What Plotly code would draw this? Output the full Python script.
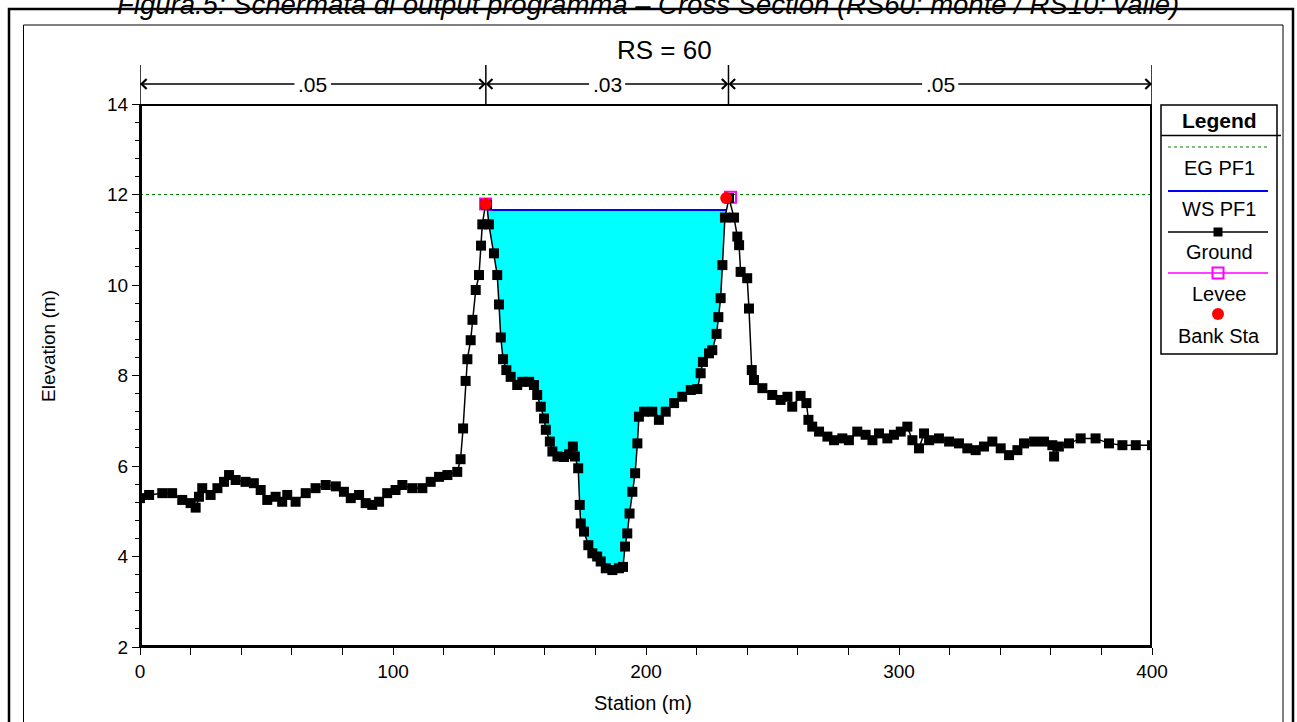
import plotly.graph_objects as go
import numpy as np

W, H = 1297, 722

# ---------------- data ----------------
station = [0, 3.6, 8.8, 12.7, 16.7, 20, 22, 23.3, 24.6, 27.9,
           30.6, 33.2, 35.2, 37.8, 41.7, 45, 47.7, 50.3, 53.6, 56.2,
           58.2, 61.5, 65.5, 69.4, 73.4, 77.4, 80.6, 83.3, 86.6, 89.2,
           91.8, 94.5, 97.7, 101, 103.7, 107.6, 111.6, 114.9, 118.2, 121.5,
           125.4, 126.7, 127.7, 128.7, 129.4, 130.7, 131.4, 132.7, 134, 134.8,
           135.3, 136.6, 137.1, 137.9, 139.9, 141.2, 141.9, 142.6, 143.5, 144.8,
           146.5, 149.1, 151.1, 153.8, 155.7, 157, 158.4, 159.7, 160.4, 162,
           163, 165, 167.6, 169.6, 171.1, 171.9, 173.2, 173.8, 174.2, 175.5,
           177.2, 178.8, 180.7, 182.1, 184.1, 186.7, 189.3, 190.9, 191.7, 192.6,
           193.5, 194.6, 195.7, 196.6, 197.2, 199.2, 202.5, 205.1, 207.8, 211.1,
           214.3, 217.7, 220.3, 221.6, 222.5, 224.9, 226.2, 227.9, 228.6, 229.5,
           230.2, 231.2, 232.8, 234.8, 236.1, 236.8, 237.4, 240, 240.7, 241.8,
           242.7, 246, 249.9, 253.2, 255.9, 257.8, 261.1, 263.4, 264.2, 265.7,
           268.4, 271.7, 274.3, 277.6, 280.2, 283.5, 286.8, 289.5, 292.1, 295.4,
           298, 300.7, 303.3, 305.3, 307.9, 309.9, 311.9, 315.8, 319.8, 323.7,
           327, 330.3, 333.6, 336.9, 340.2, 343.5, 346.8, 349.4, 353.4, 357.3,
           360.6, 361.3, 363.2, 367.2, 371.8, 377.7, 383, 388.3, 393.6, 400]
elevation = [5.29, 5.36, 5.40, 5.40, 5.25, 5.18, 5.08, 5.32, 5.51, 5.36,
             5.51, 5.65, 5.80, 5.69, 5.65, 5.62, 5.47, 5.25, 5.32, 5.21,
             5.36, 5.21, 5.40, 5.51, 5.58, 5.55, 5.43, 5.29, 5.36, 5.18,
             5.14, 5.21, 5.40, 5.47, 5.58, 5.51, 5.51, 5.65, 5.76, 5.80,
             5.87, 6.15, 6.83, 7.88, 8.36, 8.78, 9.23, 9.89, 10.22, 10.87,
             11.34, 11.79, 11.77, 11.34, 10.70, 10.22, 9.57, 8.84, 8.36, 8.12,
             7.97, 7.79, 7.86, 7.86, 7.79, 7.57, 7.31, 7.05, 6.80, 6.54,
             6.32, 6.21, 6.20, 6.26, 6.43, 6.21, 5.95, 5.14, 4.73, 4.55,
             4.25, 4.07, 4.00, 3.89, 3.74, 3.70, 3.74, 3.77, 4.22, 4.51,
             4.95, 5.43, 5.84, 6.50, 7.09, 7.20, 7.20, 7.02, 7.20, 7.39,
             7.53, 7.68, 7.70, 8.05, 8.30, 8.49, 8.56, 8.92, 9.29, 9.71,
             10.44, 11.49, 11.92, 11.49, 11.07, 10.88, 10.29, 10.15, 9.48, 8.12,
             7.90, 7.72, 7.57, 7.46, 7.53, 7.31, 7.55, 7.39, 7.02, 6.87,
             6.76, 6.65, 6.57, 6.61, 6.57, 6.76, 6.69, 6.57, 6.72, 6.61,
             6.69, 6.76, 6.87, 6.57, 6.39, 6.72, 6.57, 6.61, 6.54, 6.50,
             6.39, 6.35, 6.43, 6.54, 6.39, 6.24, 6.35, 6.50, 6.54, 6.54,
             6.46, 6.21, 6.43, 6.50, 6.61, 6.61, 6.50, 6.46, 6.46, 6.46]

ws_elev = 11.66          # WS PF1
eg_elev = 12.0           # EG PF1
bank_sta_x = [136.7, 231.7]
bank_sta_y = [11.79, 11.92]
levee_x = [136.6, 233.4]
levee_y = [11.79, 11.94]
manning_n = [".05", ".03", ".05"]
manning_breaks = [0, 136.7, 232.6, 400]
x_range = [0, 400]
y_range = [2, 14]

legend_labels = ["EG PF1", "WS PF1", "Ground", "Levee", "Bank Sta"]

FONT = "Liberation Sans, Arial, sans-serif"

# ---------------- water polygon (ground clipped at WS) ----------------
sx = np.array(station, float)
sy = np.array(elevation, float)
ch = np.where((sx > bank_sta_x[0] - 1) & (sx < levee_x[1] + 1))[0]
below = [i for i in ch if sy[i] <= ws_elev]
i0, i1 = below[0], below[-1]
def cross(a, b):
    return sx[a] + (ws_elev - sy[a]) / (sy[b] - sy[a]) * (sx[b] - sx[a])
xl = cross(i0 - 1, i0)
xr = cross(i1, i1 + 1)
poly_x = [xl] + list(sx[i0:i1 + 1]) + [xr, xl]
poly_y = [ws_elev] + list(sy[i0:i1 + 1]) + [ws_elev, ws_elev]

fig = go.Figure()

fig.add_trace(go.Scatter(x=poly_x, y=poly_y, mode="lines", fill="toself",
                         fillcolor="#00FFFF", line=dict(width=0), hoverinfo="skip"))
fig.add_trace(go.Scatter(x=[xl, xr], y=[ws_elev, ws_elev], mode="lines",
                         line=dict(color="#0000FF", width=2), name="WS PF1"))
fig.add_trace(go.Scatter(x=x_range, y=[eg_elev, eg_elev], mode="lines",
                         line=dict(color="#008000", width=1, dash="dot"), name="EG PF1"))
fig.add_trace(go.Scatter(x=levee_x, y=levee_y, mode="markers",
                         marker=dict(symbol="square-open", size=11, color="#FF00FF",
                                     line=dict(width=2, color="#FF00FF")), name="Levee"))
fig.add_trace(go.Scatter(x=station, y=elevation, mode="lines+markers",
                         line=dict(color="black", width=1.5),
                         marker=dict(symbol="square", size=10, color="black"), name="Ground"))
fig.add_trace(go.Scatter(x=bank_sta_x, y=bank_sta_y, mode="markers",
                         marker=dict(symbol="circle", size=12, color="#FF0000"), name="Bank Sta"))

# ---------------- legend samples (pixel overlay axes x2/y2) ----------------
LX0, LX1, LXC = 1168, 1268, 1218
leg_y = [147, 191, 232, 273, 314]
fig.add_trace(go.Scatter(x=[LX0, LX1], y=[leg_y[0]] * 2, xaxis="x2", yaxis="y2", mode="lines",
                         line=dict(color="#008000", width=1, dash="dot")))
fig.add_trace(go.Scatter(x=[LX0, LX1], y=[leg_y[1]] * 2, xaxis="x2", yaxis="y2", mode="lines",
                         line=dict(color="#0000FF", width=2)))
fig.add_trace(go.Scatter(x=[LX0, LX1], y=[leg_y[2]] * 2, xaxis="x2", yaxis="y2", mode="lines",
                         line=dict(color="black", width=1.5)))
fig.add_trace(go.Scatter(x=[LXC], y=[leg_y[2]], xaxis="x2", yaxis="y2", mode="markers",
                         marker=dict(symbol="square", size=9, color="black")))
fig.add_trace(go.Scatter(x=[LX0, LX1], y=[leg_y[3]] * 2, xaxis="x2", yaxis="y2", mode="lines",
                         line=dict(color="#FF00FF", width=1.5)))
fig.add_trace(go.Scatter(x=[LXC], y=[leg_y[3]], xaxis="x2", yaxis="y2", mode="markers",
                         marker=dict(symbol="square-open", size=11, color="#FF00FF",
                                     line=dict(width=2, color="#FF00FF"))))
fig.add_trace(go.Scatter(x=[LXC], y=[leg_y[4]], xaxis="x2", yaxis="y2", mode="markers",
                         marker=dict(symbol="circle", size=12, color="#FF0000")))

shapes = []
annotations = []
# outer borders
shapes.append(dict(type="rect", xref="x2", yref="y2", x0=9, x1=1293, y0=9, y1=760,
                   line=dict(color="black", width=2.5)))
shapes.append(dict(type="rect", xref="x2", yref="y2", x0=23.5, x1=1283, y0=25, y1=760,
                   line=dict(color="black", width=1)))
# plot frame
shapes.append(dict(type="rect", xref="x", yref="y", x0=x_range[0], x1=x_range[1],
                   y0=y_range[0], y1=y_range[1], line=dict(color="black", width=4), layer="above"))
# legend box
shapes.append(dict(type="rect", xref="x2", yref="y2", x0=1161, x1=1277, y0=105, y1=354,
                   line=dict(color="black", width=1.5)))
shapes.append(dict(type="line", xref="x2", yref="y2", x0=1161, x1=1281, y0=135.5, y1=135.5,
                   line=dict(color="black", width=1.5)))
annotations.append(dict(xref="x2", yref="y2", x=1219, y=120, text="<b>Legend</b>", showarrow=False,
                        font=dict(family=FONT, size=21, color="black")))
for lab, yy in zip(legend_labels, [168, 209, 252, 294, 336]):
    annotations.append(dict(xref="x2", yref="y2", x=1219, y=yy, text=lab, showarrow=False,
                            font=dict(family=FONT, size=20, color="black")))

# manning n arrows
ARROW_Y = 84
for b in manning_breaks:
    shapes.append(dict(type="line", xref="x", yref="y2", x0=b, x1=b, y0=65, y1=104,
                       line=dict(color="black", width=1.5)))
for i, n in enumerate(manning_n):
    a, b = manning_breaks[i], manning_breaks[i + 1]
    c = (a + b) / 2
    for end in (a, b):
        annotations.append(dict(xref="x", yref="y2", axref="x", ayref="y2",
                                x=end, y=ARROW_Y, ax=c, ay=ARROW_Y, text=n,
                                showarrow=True, arrowhead=4, arrowsize=1.3, arrowwidth=1.5,
                                arrowcolor="black", bgcolor="white", borderpad=3,
                                font=dict(family=FONT, size=21, color="black")))

# titles
annotations.append(dict(xref="x2", yref="y2", x=648, y=4, yanchor="middle",
                        text="<i>Figura.5: Schermata di output programma – Cross Section (RS60: monte / RS10: valle)</i>",
                        showarrow=False, font=dict(family=FONT, size=27.5, color="black")))
annotations.append(dict(xref="x2", yref="y2", x=664, y=50, text="RS = 60", showarrow=False,
                        font=dict(family=FONT, size=26, color="black")))
annotations.append(dict(xref="x2", yref="y2", x=48, y=346, text="Elevation (m)", textangle=-90,
                        showarrow=False, font=dict(family=FONT, size=19, color="black")))
annotations.append(dict(xref="x2", yref="y2", x=643, y=703, text="Station (m)", showarrow=False,
                        font=dict(family=FONT, size=20, color="black")))

fig.update_layout(
    template="none", autosize=False,
    width=W, height=H, margin=dict(l=0, r=0, t=0, b=0, pad=0, autoexpand=False),
    paper_bgcolor="white", plot_bgcolor="rgba(0,0,0,0)", showlegend=False,
    font=dict(family=FONT, color="black"),
    xaxis=dict(domain=[140 / W, 1152 / W], range=x_range, tick0=0, dtick=100,
               ticks="outside", ticklen=7, tickwidth=1, tickcolor="black",
               minor=dict(dtick=20, ticks="outside", ticklen=7, tickwidth=1, tickcolor="black"),
               showgrid=False, zeroline=False, showline=True, linecolor="black", linewidth=1,
               tickfont=dict(family=FONT, size=19, color="black"), anchor="y", automargin=False),
    yaxis=dict(domain=[1 - 647 / H, 1 - 104 / H], range=y_range, tick0=2, dtick=2,
               ticks="outside", ticklen=7, tickwidth=1, tickcolor="black",
               minor=dict(dtick=0.4, ticks="outside", ticklen=4, tickwidth=1, tickcolor="black"),
               showgrid=False, zeroline=False, showline=True, linecolor="black", linewidth=1,
               tickfont=dict(family=FONT, size=19, color="black"), anchor="x", automargin=False),
    xaxis2=dict(domain=[0, 1], range=[0, W], visible=False, anchor="y2", fixedrange=True,
                automargin=False),
    yaxis2=dict(domain=[0, 1], range=[H, 0], visible=False, anchor="x2", fixedrange=True,
                automargin=False),
    shapes=shapes, annotations=annotations,
)

fig.write_html("out.html", config={"displayModeBar": False},
               post_script="document.body.style.margin='0';")
